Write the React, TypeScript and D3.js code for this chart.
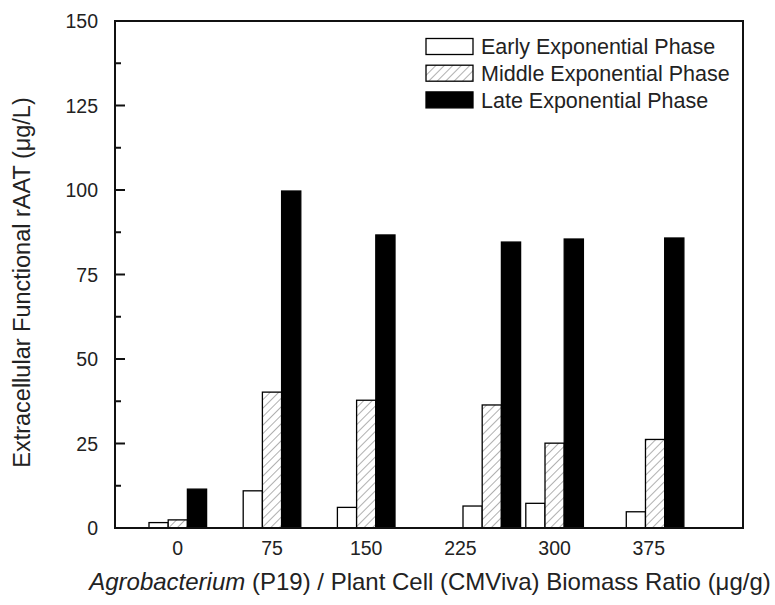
import React from "react";
import * as d3 from "d3";

// Biomass ratio categories (tick labels) and the ratios actually tested per group
const ratioTicks = [0, 75, 150, 225, 300, 375];
const groupRatios = [0, 75, 150, 250, 300, 380];

// Extracellular functional rAAT (µg/L) per growth phase
const earlyPhase = [1.6, 11.0, 6.1, 6.5, 7.3, 4.8];
const middlePhase = [2.4, 40.2, 37.8, 36.4, 25.1, 26.2];
const latePhase = [11.5, 99.7, 86.7, 84.6, 85.5, 85.8];

const seriesNames = ["Early Exponential Phase", "Middle Exponential Phase", "Late Exponential Phase"];
const yMajorTicks = [0, 25, 50, 75, 100, 125, 150];
const yMinorTicks = [12.5, 37.5, 62.5, 87.5, 112.5, 137.5];

const W = 775;
const H = 605;
const plot = { left: 115, right: 743, top: 21, bottom: 528 };
const FONT = "'Liberation Sans', Arial, Helvetica, sans-serif";
const BAR_W = 19.2;

export default function App() {
  const x = d3.scaleLinear().domain([-50, 450]).range([plot.left, plot.right]);
  const y = d3.scaleLinear().domain([0, 150]).range([plot.bottom, plot.top]);
  const series = [earlyPhase, middlePhase, latePhase];
  const fills = ["#ffffff", "url(#hatch)", "#000000"];

  return (
    <svg
      width={W}
      height={H}
      style={{ position: "fixed", left: 0, top: 0, background: "#fff" }}
      fontFamily={FONT}
    >
      <defs>
        <pattern id="hatch" width="6" height="6" patternUnits="userSpaceOnUse" patternTransform="rotate(45)">
          <rect width="6" height="6" fill="#fff" />
          <line x1="0" y1="0" x2="0" y2="6" stroke="#6e6e6e" strokeWidth="1.1" />
        </pattern>
      </defs>
      <rect width={W} height={H} fill="#fff" />

      {/* bars */}
      {series.map((vals, si) =>
        vals.map((v, gi) => {
          const cx = x(groupRatios[gi]);
          const x0 = cx + (si - 1.5) * BAR_W;
          return (
            <rect
              key={`${si}-${gi}`}
              x={x0}
              y={y(v)}
              width={BAR_W}
              height={y(0) - y(v)}
              fill={fills[si]}
              stroke="#000"
              strokeWidth={1.3}
            />
          );
        })
      )}

      {/* frame */}
      <rect
        x={plot.left}
        y={plot.top}
        width={plot.right - plot.left}
        height={plot.bottom - plot.top}
        fill="none"
        stroke="#111"
        strokeWidth={2}
      />

      {/* y ticks */}
      {yMajorTicks.map((t) => (
        <g key={`ym${t}`}>
          <line x1={plot.left} x2={plot.left + 10} y1={y(t)} y2={y(t)} stroke="#111" strokeWidth={2} />
          <text x={98} y={y(t)} dy="0.36em" textAnchor="end" fontSize={19.5} fill="#222">
            {t}
          </text>
        </g>
      ))}
      {yMinorTicks.map((t) => (
        <line key={`yn${t}`} x1={plot.left} x2={plot.left + 6} y1={y(t)} y2={y(t)} stroke="#111" strokeWidth={2} />
      ))}

      {/* x tick labels */}
      {ratioTicks.map((t) => (
        <text key={`xt${t}`} x={x(t)} y={555} textAnchor="middle" fontSize={19.5} fill="#222">
          {t}
        </text>
      ))}

      {/* axis titles */}
      <text x={430} y={590} textAnchor="middle" fontSize={24} fill="#222">
        <tspan fontStyle="italic">Agrobacterium</tspan> (P19) / Plant Cell (CMViva) Biomass Ratio (μg/g)
      </text>
      <text
        transform={`translate(30, ${(plot.top + plot.bottom) / 2 + 8}) rotate(-90)`}
        textAnchor="middle"
        fontSize={23.5}
        fill="#222"
      >
        Extracellular Functional rAAT (μg/L)
      </text>

      {/* legend */}
      {seriesNames.map((name, i) => {
        const cy = 46.5 + i * 26.7;
        return (
          <g key={name}>
            <rect
              x={426}
              y={cy - 8}
              width={47}
              height={16}
              fill={fills[i]}
              stroke="#000"
              strokeWidth={1.3}
            />
            <text x={481} y={cy} dy="0.36em" fontSize={21.5} fill="#222">
              {name}
            </text>
          </g>
        );
      })}
    </svg>
  );
}
